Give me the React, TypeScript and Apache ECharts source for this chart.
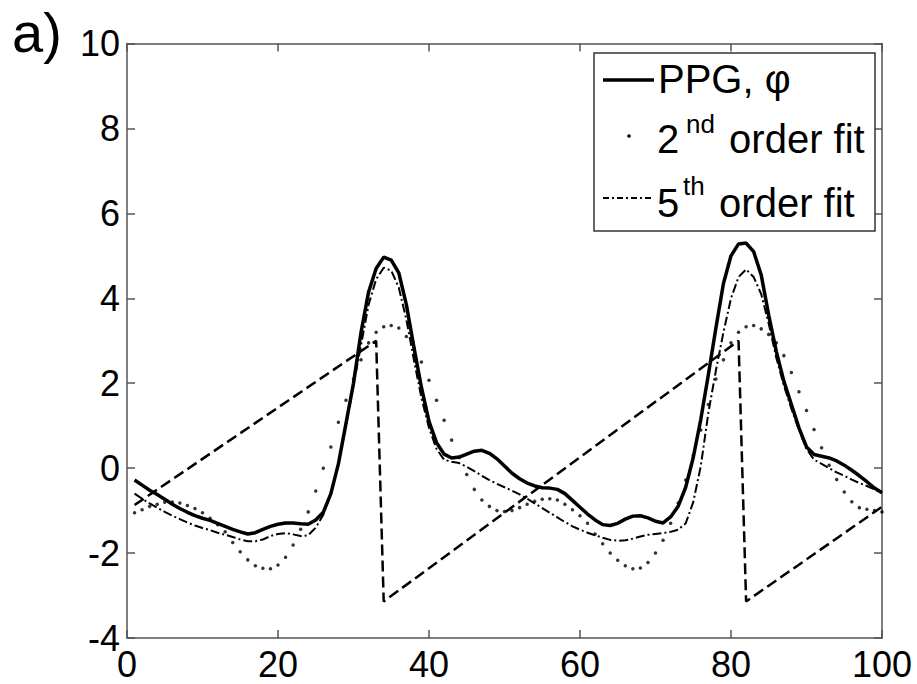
import React, { useEffect, useRef } from "react";
import * as echarts from "echarts";

// PPG signal (solid), samples 1..100
const ppg = [
  -0.28, -0.4, -0.52, -0.62, -0.73, -0.85, -0.95, -1.04, -1.12, -1.18,
  -1.23, -1.3, -1.37, -1.44, -1.5, -1.55, -1.52, -1.44, -1.37, -1.32,
  -1.29, -1.29, -1.31, -1.32, -1.22, -1.04, -0.6, 0.1, 1.05, 2.0,
  3.2, 4.15, 4.7, 4.97, 4.9, 4.6, 3.85, 2.85, 1.9, 1.1,
  0.6, 0.33, 0.24, 0.26, 0.33, 0.4, 0.42, 0.35, 0.22, 0.05,
  -0.12, -0.25, -0.35, -0.42, -0.46, -0.47, -0.5, -0.6, -0.76, -0.92,
  -1.08, -1.22, -1.33, -1.35, -1.3, -1.2, -1.13, -1.12, -1.17, -1.25,
  -1.29, -1.15, -0.9, -0.45, 0.25, 1.15, 2.2, 3.3, 4.35, 5.0,
  5.28, 5.3, 5.1, 4.55, 3.6, 2.75, 2.05, 1.5, 0.95, 0.5,
  0.32, 0.28, 0.24, 0.17, 0.07, -0.05, -0.18, -0.32, -0.47, -0.58,
];

// 2nd order fit (dots), samples 1..100
const fit2 = [
  -1.05, -0.98, -0.9, -0.85, -0.8, -0.8, -0.82, -0.88, -0.95, -1.05,
  -1.18, -1.33, -1.5, -1.75, -1.97, -2.16, -2.3, -2.36, -2.37, -2.28,
  -2.1, -1.81, -1.44, -1.03, -0.54, 0.0, 0.5, 1.08, 1.6, 2.1,
  2.55, 2.95, 3.2, 3.33, 3.36, 3.3, 3.1, 2.85, 2.5, 2.07,
  1.6, 1.13, 0.66, 0.25, -0.15, -0.5, -0.75, -0.9, -1.0, -1.02,
  -1.0, -0.93, -0.85, -0.78, -0.73, -0.72, -0.75, -0.85, -0.98, -1.12,
  -1.3, -1.55, -1.78, -2.0, -2.17, -2.3, -2.37, -2.35, -2.22, -2.0,
  -1.7, -1.3, -0.82, -0.28, 0.3, 0.9, 1.5, 2.1, 2.55, 2.95,
  3.2, 3.33, 3.36, 3.28, 3.15, 2.95, 2.65, 2.25, 1.8, 1.36,
  0.91, 0.48, 0.07, -0.27, -0.56, -0.79, -0.93, -0.97, -1.0, -1.03,
];

// 5th order fit (dash-dot), samples 1..100
const fit5 = [
  -0.6, -0.72, -0.83, -0.93, -1.03, -1.12, -1.2, -1.28, -1.35, -1.41,
  -1.46, -1.52, -1.57, -1.62, -1.68, -1.72, -1.72, -1.68, -1.6, -1.55,
  -1.53, -1.56, -1.6, -1.58, -1.4, -1.1, -0.6, 0.1, 1.0, 1.95,
  2.9, 3.85, 4.45, 4.72, 4.65, 4.25, 3.5, 2.55, 1.65, 0.95,
  0.45, 0.2, 0.15, 0.12, 0.03, -0.07, -0.18, -0.28, -0.37, -0.45,
  -0.53, -0.62, -0.72, -0.83, -0.94, -1.05, -1.16, -1.27, -1.37, -1.45,
  -1.52, -1.58, -1.64, -1.69, -1.71, -1.7, -1.66, -1.61, -1.57, -1.55,
  -1.53, -1.5, -1.45, -1.3, -0.8, 0.05, 1.3, 2.3, 3.2, 4.0,
  4.5, 4.68, 4.5, 4.1, 3.4, 2.6, 1.95, 1.4, 0.9, 0.45,
  0.2, 0.1, 0.0, -0.1, -0.18, -0.27, -0.35, -0.42, -0.5, -0.58,
];

// Phase phi (dashed sawtooth): [sample, value]
const phase: [number, number][] = [
  [1, -0.87], [33, 3.0], [34, -3.14], [81, 3.0], [82, -3.14], [100, -0.91],
];

const xTicks = { min: 0, max: 100, interval: 20 };
const yTicks = { min: -4, max: 10, interval: 2 };

const legendLabels = ["PPG, φ", "2", "nd", " order fit", "5", "th", " order fit"];

const FONT = "'Liberation Sans', Arial, Helvetica, sans-serif";

const pairs = (vals: number[]) => vals.map((v, i) => [i + 1, v]);

export default function App() {
  const ref = useRef<HTMLDivElement>(null);
  useEffect(() => {
    if (!ref.current) return;
    const chart = echarts.init(ref.current, null, { renderer: "svg" });
    const axisColor = "#555";
    const labelStyle = { fontSize: 36, color: "#000", fontFamily: FONT };
    const base = (fs: number, b: number) => b - 0.3465 * fs;
    chart.setOption({
      animation: false,
      backgroundColor: "#fff",
      grid: {
        left: 127, right: 35, top: 43.5, bottom: 46,
        containLabel: false, outerBoundsMode: "none",
      },
      xAxis: [
        {
          type: "value", ...xTicks, position: "bottom",
          axisLine: { show: true, onZero: false, lineStyle: { color: axisColor, width: 1.5 } },
          axisTick: { show: true, inside: true, length: 8, lineStyle: { color: axisColor, width: 1.5 } },
          axisLabel: { ...labelStyle, margin: 8 },
          splitLine: { show: false },
        },
        {
          type: "value", ...xTicks, position: "top",
          axisLine: { show: true, onZero: false, lineStyle: { color: axisColor, width: 1.5 } },
          axisTick: { show: true, inside: true, length: 8, lineStyle: { color: axisColor, width: 1.5 } },
          axisLabel: { show: false },
          splitLine: { show: false },
        },
      ],
      yAxis: [
        {
          type: "value", ...yTicks, position: "left",
          axisLine: { show: true, onZero: false, lineStyle: { color: axisColor, width: 1.5 } },
          axisTick: { show: true, inside: true, length: 8, lineStyle: { color: axisColor, width: 1.5 } },
          axisLabel: { ...labelStyle, margin: 7 },
          splitLine: { show: false },
        },
        {
          type: "value", ...yTicks, position: "right",
          axisLine: { show: true, onZero: false, lineStyle: { color: axisColor, width: 1.5 } },
          axisTick: { show: true, inside: true, length: 8, lineStyle: { color: axisColor, width: 1.5 } },
          axisLabel: { show: false },
          splitLine: { show: false },
        },
      ],
      series: [
        {
          name: "phi", type: "line", data: phase, showSymbol: false,
          lineStyle: { color: "#000", width: 2.5, type: [11, 5] },
        },
        {
          name: "5th order fit", type: "line", data: pairs(fit5), showSymbol: false,
          lineStyle: { color: "#000", width: 2, type: [9, 3, 2, 3] },
        },
        {
          name: "2nd order fit", type: "scatter", data: pairs(fit2),
          symbol: "circle", symbolSize: 3.5, itemStyle: { color: "#000" },
        },
        {
          name: "PPG", type: "line", data: pairs(ppg), showSymbol: false,
          lineStyle: { color: "#000", width: 3.5 },
        },
      ],
      graphic: [
        {
          type: "text", x: 12, y: base(56, 52),
          style: { text: "a)", fontSize: 56, fontFamily: FONT, fill: "#000", verticalAlign: "middle" },
        },
        {
          type: "rect", shape: { x: 594, y: 53, width: 281, height: 178 },
          style: { fill: "#fff", stroke: "#333", lineWidth: 1.5 }, z: 10,
        },
        {
          type: "line", shape: { x1: 603, y1: 80, x2: 654, y2: 80 },
          style: { stroke: "#000", lineWidth: 3.5 }, z: 11,
        },
        {
          type: "circle", shape: { cx: 629, cy: 136, r: 1.8 },
          style: { fill: "#000" }, z: 11,
        },
        {
          type: "line", shape: { x1: 603, y1: 198, x2: 654, y2: 198 },
          style: { stroke: "#000", lineWidth: 2, lineDash: [6, 3, 2, 3] }, z: 11,
        },
        {
          type: "text", x: 658, y: base(40, 93), z: 11,
          style: { text: legendLabels[0], fontSize: 40, fontFamily: FONT, fill: "#000", verticalAlign: "middle" },
        },
        {
          type: "text", x: 657, y: base(40, 153), z: 11,
          style: { text: legendLabels[1], fontSize: 40, fontFamily: FONT, fill: "#000", verticalAlign: "middle" },
        },
        {
          type: "text", x: 686, y: base(26, 133), z: 11,
          style: { text: legendLabels[2], fontSize: 26, fontFamily: FONT, fill: "#000", verticalAlign: "middle" },
        },
        {
          type: "text", x: 718, y: base(40, 153), z: 11,
          style: { text: legendLabels[3], fontSize: 40, fontFamily: FONT, fill: "#000", verticalAlign: "middle" },
        },
        {
          type: "text", x: 657, y: base(40, 217), z: 11,
          style: { text: legendLabels[4], fontSize: 40, fontFamily: FONT, fill: "#000", verticalAlign: "middle" },
        },
        {
          type: "text", x: 683, y: base(26, 195), z: 11,
          style: { text: legendLabels[5], fontSize: 26, fontFamily: FONT, fill: "#000", verticalAlign: "middle" },
        },
        {
          type: "text", x: 708, y: base(40, 217), z: 11,
          style: { text: legendLabels[6], fontSize: 40, fontFamily: FONT, fill: "#000", verticalAlign: "middle" },
        },
      ],
    });
    return () => chart.dispose();
  }, []);
  return (
    <div
      ref={ref}
      style={{ position: "fixed", left: 0, top: 0, width: 917, height: 684, background: "#fff" }}
    />
  );
}
